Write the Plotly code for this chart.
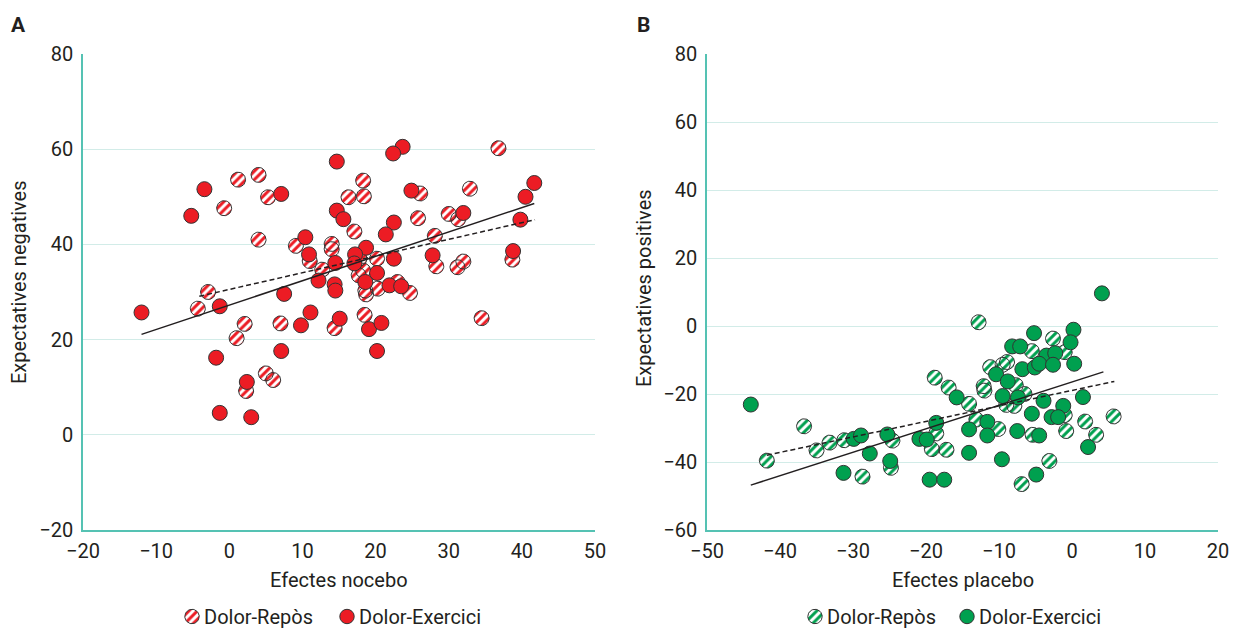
import numpy as np
import plotly.graph_objects as go

# ---------------- data ----------------
a_rep_x = [-4.3, -2.9, -0.7, 1.0, 1.2, 2.1, 2.3, 4.0, 4.0, 5.0, 6.0, 5.3, 7.0, 9.1, 11.0,
           14.0, 14.0, 12.7, 14.4, 18.3, 16.3, 18.4, 26.1, 32.9, 36.8, 17.1, 25.8, 30.0,
           31.3, 28.1, 17.8, 20.2, 17.7, 18.3, 18.6, 18.7, 20.3, 23.0, 24.7, 28.3, 31.2,
           32.0, 38.7, 34.5, 18.5]
a_rep_y = [26.5, 30.0, 47.6, 20.3, 53.6, 23.3, 9.2, 54.6, 41.0, 12.9, 11.5, 49.9, 23.4, 39.7,
           36.5, 40.1, 39.0, 34.7, 22.4, 53.4, 49.9, 50.1, 50.7, 51.7, 60.2, 42.7, 45.5,
           46.4, 45.3, 41.8, 37.0, 37.0, 33.5, 34.5, 30.3, 29.5, 30.7, 32.1, 29.8, 35.4,
           35.2, 36.4, 36.8, 24.5, 25.2]
a_exe_x = [-12.0, -5.2, -3.4, -1.8, -1.3, -1.3, 2.4, 3.0, 7.1, 7.1, 7.5, 9.8, 10.4, 10.9, 11.1,
           12.2, 14.4, 14.5, 14.5, 14.7, 14.7, 15.6, 15.1, 18.7, 17.2, 17.1, 20.2, 18.6,
           22.5, 21.9, 23.5, 27.8, 38.8, 19.1, 20.8, 20.2, 23.7, 22.4, 24.9, 41.7, 40.5,
           22.5, 21.4, 32.0, 39.8]
a_exe_y = [25.7, 46.0, 51.6, 16.2, 4.6, 27.0, 11.1, 3.7, 50.6, 17.6, 29.6, 23.0, 41.5, 37.9,
           25.7, 32.4, 31.6, 30.3, 36.1, 57.4, 47.1, 45.3, 24.4, 39.3, 37.9, 36.0, 34.0,
           32.1, 37.0, 31.4, 31.2, 37.7, 38.6, 22.2, 23.5, 17.6, 60.5, 59.1, 51.3, 52.9,
           50.0, 44.6, 42.1, 46.6, 45.2]
a_fit_exe_x = [-12.0, 41.7]
a_fit_exe_y = [21.1, 48.6]
a_fit_rep_x = [-4.1, 41.8]
a_fit_rep_y = [29.1, 45.2]

b_rep_x = [-36.7, -41.8, -35.0, -33.2, -31.2, -24.6, -24.8, -28.7, -12.8, -2.6, -5.5, -1.0,
           -9.5, -8.9, -11.2, -18.8, -16.9, -14.1, -12.1, -12.0, -7.7, -6.5, -9.0, -7.9,
           -1.0, 1.8, 5.7, -13.1, -10.1, -5.4, -0.8, 3.3, -18.6, -19.2, -17.2, -3.1, -6.9]
b_rep_y = [-29.5, -39.6, -36.6, -34.3, -33.6, -33.7, -41.7, -44.3, 1.1, -3.7, -7.4, -7.7,
           -11.4, -10.6, -12.1, -15.2, -18.1, -22.9, -17.7, -19.0, -17.4, -20.0, -23.2,
           -23.5, -26.2, -28.1, -26.6, -27.5, -30.3, -32.0, -30.9, -32.0, -31.6, -36.2,
           -36.4, -39.7, -46.5]
b_exe_x = [-44.0, -29.9, -28.9, -27.7, -25.3, -24.9, -31.3, 4.1, -5.2, 0.2, -0.2, -8.2, -7.1,
           -3.5, -2.3, -10.4, -6.8, -5.1, -4.5, -2.6, 0.3, -15.8, -8.8, -9.5, -7.4, -3.9,
           -1.2, 1.5, -5.5, -2.8, -1.9, -18.6, -11.6, -14.1, -11.6, -7.5, -4.5, 2.2, -20.9,
           -19.9, -14.1, -9.6, -4.9, -19.5, -17.5]
b_exe_y = [-23.1, -33.2, -32.2, -37.5, -31.9, -39.7, -43.2, 9.6, -2.1, -1.1, -4.8, -6.0, -6.0,
           -8.7, -8.0, -14.2, -12.7, -12.2, -11.1, -11.4, -11.1, -21.0, -16.3, -20.6, -21.0,
           -22.0, -23.5, -20.9, -25.8, -26.8, -26.8, -28.5, -28.2, -30.4, -32.2, -30.9,
           -32.2, -35.6, -33.2, -33.4, -37.3, -39.2, -43.7, -45.2, -45.2]
b_fit_exe_x = [-44.0, 4.3]
b_fit_exe_y = [-46.8, -13.5]
b_fit_rep_x = [-41.8, 5.8]
b_fit_rep_y = [-38.0, -16.3]

a_xrange, a_yrange = [-20, 50], [-20, 80]
b_xrange, b_yrange = [-50, 20], [-60, 80]
a_xticks = [-20, -10, 0, 10, 20, 30, 40, 50]
a_yticks = [-20, 0, 20, 40, 60, 80]
b_xticks = [-50, -40, -30, -20, -10, 0, 10, 20]
b_yticks = [-60, -40, -20, 0, 20, 40, 60, 80]

series_names = ["Dolor-Repòs", "Dolor-Exercici"]

# ---------------- style / layout ----------------
W, H = 1237, 628
ML, MR, MT, MB = 83, 19, 54, 0
PW, PH = W - ML - MR, H - MT - MB
FONT = "Roboto, 'Noto Sans', Arial, sans-serif"
RED = "#ec1c24"
GREEN = "#00a04f"
OUTLINE = "#333333"
AXIS = "#55c2b3"
GRID = "#d2ece8"
TXT = "#231f20"
R_PX = 7.5
FS = 20

def px_x(px):
    return (px - ML) / PW

def px_y(py):
    return (H - MB - py) / PH

main_dom_y = [px_y(530), 1.0]
a_dom_x = [px_x(83), px_x(595)]
b_dom_x = [px_x(707), px_x(1218)]


def circle_paths(xs, ys, rx, ry, n=40):
    t = np.linspace(0, 2 * np.pi, n + 1)
    cx, cy = [], []
    for x0, y0 in zip(xs, ys):
        cx.extend(list(x0 + rx * np.cos(t)) + [None])
        cy.extend(list(y0 + ry * np.sin(t)) + [None])
    return cx, cy


def striped_trace(xs, ys, rx, ry, color, xa, ya):
    cx, cy = circle_paths(xs, ys, rx, ry)
    return go.Scatter(
        x=cx, y=cy, xaxis=xa, yaxis=ya, mode="lines", fill="toself",
        fillcolor="white",
        fillpattern=dict(shape="/", fgcolor=color, bgcolor="white", size=6,
                         solidity=0.5, fillmode="replace"),
        line=dict(color=OUTLINE, width=1), hoverinfo="skip", showlegend=False)


def filled_trace(xs, ys, color, xa, ya):
    return go.Scatter(
        x=xs, y=ys, xaxis=xa, yaxis=ya, mode="markers",
        marker=dict(size=2 * R_PX, color=color, line=dict(color=OUTLINE, width=1)),
        hoverinfo="skip", showlegend=False)


def fit_trace(xs, ys, dash, xa, ya):
    return go.Scatter(x=xs, y=ys, xaxis=xa, yaxis=ya, mode="lines",
                      line=dict(color=TXT, width=1.5, dash=dash),
                      hoverinfo="skip", showlegend=False)


fig = go.Figure()

panels = [
    dict(rep=(a_rep_x, a_rep_y), exe=(a_exe_x, a_exe_y),
         fe=(a_fit_exe_x, a_fit_exe_y), fr=(a_fit_rep_x, a_fit_rep_y),
         xr=a_xrange, yr=a_yrange, dom=a_dom_x, color=RED, xa="x", ya="y"),
    dict(rep=(b_rep_x, b_rep_y), exe=(b_exe_x, b_exe_y),
         fe=(b_fit_exe_x, b_fit_exe_y), fr=(b_fit_rep_x, b_fit_rep_y),
         xr=b_xrange, yr=b_yrange, dom=b_dom_x, color=GREEN, xa="x2", ya="y2"),
]

for p in panels:
    wpx = (p["dom"][1] - p["dom"][0]) * PW
    hpx = (main_dom_y[1] - main_dom_y[0]) * PH
    rx = R_PX * (p["xr"][1] - p["xr"][0]) / wpx
    ry = R_PX * (p["yr"][1] - p["yr"][0]) / hpx
    fig.add_trace(striped_trace(p["rep"][0], p["rep"][1], rx, ry, p["color"], p["xa"], p["ya"]))
    fig.add_trace(filled_trace(p["exe"][0], p["exe"][1], p["color"], p["xa"], p["ya"]))
    fig.add_trace(fit_trace(p["fr"][0], p["fr"][1], "5px,3px", p["xa"], p["ya"]))
    fig.add_trace(fit_trace(p["fe"][0], p["fe"][1], "solid", p["xa"], p["ya"]))

# ---- custom legends drawn on a pixel-scaled helper axis ----
leg_h = 30
legend_items = [
    dict(cx=192, name=series_names[0], color=RED, striped=True),
    dict(cx=347, name=series_names[1], color=RED, striped=False),
    dict(cx=815, name=series_names[0], color=GREEN, striped=True),
    dict(cx=967, name=series_names[1], color=GREEN, striped=False),
]
leg_y = 616.5
for it in legend_items:
    if it["striped"]:
        fig.add_trace(striped_trace([it["cx"]], [leg_y], 7.2, 7.2, it["color"], "x3", "y3"))
    else:
        fig.add_trace(go.Scatter(x=[it["cx"]], y=[leg_y], xaxis="x3", yaxis="y3", mode="markers",
                                 marker=dict(size=14.4, color=it["color"],
                                             line=dict(color=OUTLINE, width=1)),
                                 hoverinfo="skip", showlegend=False))

annotations = []
for it in legend_items:
    annotations.append(dict(x=it["cx"] + 11, y=leg_y, xref="x3", yref="y3", text=it["name"],
                            showarrow=False, xanchor="left", yanchor="middle", borderpad=0,
                            font=dict(family=FONT, size=FS, color=TXT)))

# axis titles and panel letters
annotations += [
    dict(x=px_x(339), y=px_y(580), xref="paper", yref="paper", text="Efectes nocebo",
         showarrow=False, xanchor="center", yanchor="middle",
         font=dict(family=FONT, size=FS, color=TXT)),
    dict(x=px_x(963), y=px_y(580), xref="paper", yref="paper", text="Efectes placebo",
         showarrow=False, xanchor="center", yanchor="middle",
         font=dict(family=FONT, size=FS, color=TXT)),
    dict(x=px_x(19), y=px_y(282), xref="paper", yref="paper", text="Expectatives negatives",
         showarrow=False, textangle=-90, xanchor="center", yanchor="middle",
         font=dict(family=FONT, size=FS, color=TXT)),
    dict(x=px_x(644), y=px_y(288), xref="paper", yref="paper", text="Expectatives positives",
         showarrow=False, textangle=-90, xanchor="center", yanchor="middle",
         font=dict(family=FONT, size=FS, color=TXT)),
    dict(x=px_x(18), y=px_y(25), xref="paper", yref="paper", text="<b>A</b>",
         showarrow=False, xanchor="center", yanchor="middle",
         font=dict(family=FONT, size=21, color=TXT)),
    dict(x=px_x(643), y=px_y(25), xref="paper", yref="paper", text="<b>B</b>",
         showarrow=False, xanchor="center", yanchor="middle",
         font=dict(family=FONT, size=21, color=TXT)),
]

tickfont = dict(family=FONT, size=FS, color=TXT)


def xaxis_cfg(rng, ticks, dom, anchor):
    return dict(domain=dom, range=rng, tickmode="array", tickvals=ticks, anchor=anchor,
                showgrid=False, zeroline=False, showline=True, linecolor=AXIS, linewidth=1.5,
                ticks="", tickfont=tickfont, ticklabelstandoff=2, automargin=False,
                fixedrange=True)


def yaxis_cfg(rng, ticks, anchor):
    return dict(domain=main_dom_y, range=rng, tickmode="array", tickvals=ticks, anchor=anchor,
                showgrid=True, gridcolor=GRID, gridwidth=1, zeroline=False, showline=True,
                linecolor=AXIS, linewidth=1.5, ticks="", tickfont=tickfont,
                ticklabelstandoff=4, automargin=False, fixedrange=True)


fig.update_layout(
    width=W, height=H,
    margin=dict(l=ML, r=MR, t=MT, b=MB, pad=0),
    paper_bgcolor="white", plot_bgcolor="white",
    font=dict(family=FONT, size=FS, color=TXT),
    showlegend=False,
    xaxis=xaxis_cfg(a_xrange, a_xticks, a_dom_x, "y"),
    yaxis=yaxis_cfg(a_yrange, a_yticks, "x"),
    xaxis2=xaxis_cfg(b_xrange, b_xticks, b_dom_x, "y2"),
    yaxis2=yaxis_cfg(b_yrange, b_yticks, "x2"),
    xaxis3=dict(domain=[0, 1], range=[ML, W - MR], visible=False, anchor="y3",
                fixedrange=True),
    yaxis3=dict(domain=[0, leg_h / PH], range=[H - MB, H - MB - leg_h], visible=False,
                anchor="x3", fixedrange=True),
    annotations=annotations,
)

fig.write_html(
    "out.html",
    config={"displayModeBar": False},
    post_script="document.body.style.margin='0px';document.body.style.overflow='hidden';",
)
